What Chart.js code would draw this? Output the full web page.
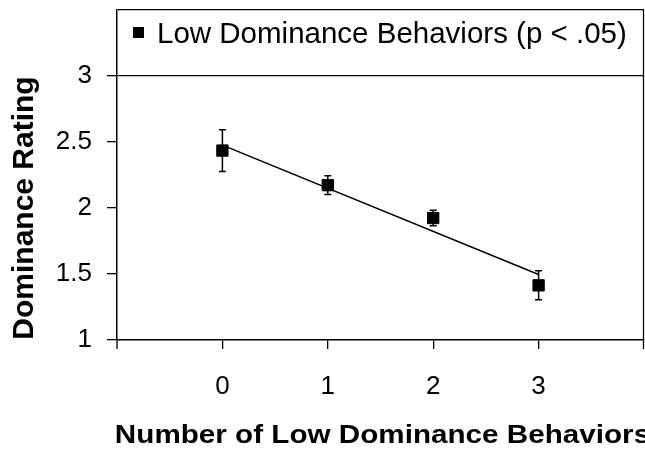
<!DOCTYPE html>
<html>
<head>
    <title>Dominance Rating</title>
    <script src="https://cdn.jsdelivr.net/npm/chart.js"></script>
    <style>
        html, body { margin: 0; padding: 0; background: #fff; overflow: hidden; }
    </style>
</head>
<body>
    <canvas id="chart" width="645" height="449"></canvas>
    <script>
        // values
        const behaviorCounts = [0, 1, 2, 3];
        const meanRatings = [2.435, 2.173, 1.924, 1.414];
        const errorSizes = [0.158, 0.071, 0.059, 0.11];
        const trendX = [0, 3];
        const trendY = [2.476, 1.496];
        const yTickValues = [1, 1.5, 2, 2.5, 3];
        const xTickLabels = ["0", "1", "2", "3"];
        const legendLabel = "Low Dominance Behaviors (p < .05)";
        const xTitle = "Number of Low Dominance Behaviors";
        const yTitle = "Dominance Rating";

        const FONT = "'Liberation Sans', Arial, sans-serif";
        const clear = "rgba(0,0,0,0)";

        const pointData = behaviorCounts.map((x, i) => ({ x: x, y: meanRatings[i] }));
        const trendData = trendX.map((x, i) => ({ x: x, y: trendY[i] }));

        // error bars, outer ticks, legend box and axis titles
        const decor = {
            id: "decor",
            beforeDatasetsDraw(chart) {
                const ctx = chart.ctx, xs = chart.scales.x, ys = chart.scales.y;
                ctx.save();
                ctx.strokeStyle = "#000";
                ctx.lineWidth = 1.5;
                behaviorCounts.forEach((x, i) => {
                    const px = xs.getPixelForValue(x);
                    const top = ys.getPixelForValue(meanRatings[i] + errorSizes[i]);
                    const bot = ys.getPixelForValue(meanRatings[i] - errorSizes[i]);
                    ctx.beginPath();
                    ctx.moveTo(px, top); ctx.lineTo(px, bot);
                    ctx.moveTo(px - 3.5, top); ctx.lineTo(px + 3.5, top);
                    ctx.moveTo(px - 3.5, bot); ctx.lineTo(px + 3.5, bot);
                    ctx.stroke();
                });
                // right edge of the plot and the end tick marks of the x axis
                const area = chart.chartArea;
                const xr = xs.getPixelForValue(xs.max) - 0.5;
                const xl = xs.getPixelForValue(xs.min);
                ctx.lineWidth = 1.3;
                ctx.beginPath();
                ctx.moveTo(xr, area.top); ctx.lineTo(xr, area.bottom + 9);
                ctx.moveTo(xl, area.bottom); ctx.lineTo(xl, area.bottom + 9);
                ctx.stroke();
                ctx.restore();
            },
            afterDraw(chart) {
                const ctx = chart.ctx, area = chart.chartArea, ys = chart.scales.y;
                ctx.save();
                ctx.fillStyle = "#000";
                // legend
                const boxTop = ys.getPixelForValue(3.5);
                ctx.fillRect(area.left + 16, boxTop + 17, 11, 11);
                ctx.font = "29.5px " + FONT;
                ctx.textBaseline = "alphabetic";
                ctx.textAlign = "left";
                ctx.fillText(legendLabel, area.left + 40, boxTop + 33);
                // y title
                const yMid = (ys.getPixelForValue(1) + ys.getPixelForValue(3)) / 2;
                ctx.save();
                ctx.translate(33, yMid);
                ctx.rotate(-Math.PI / 2);
                ctx.textAlign = "center";
                ctx.font = "bold 30px " + FONT;
                ctx.fillText(yTitle, 0, 0);
                ctx.restore();
                // x title
                ctx.save();
                ctx.translate((area.left + area.right) / 2 + 2, 443);
                ctx.scale(1.14, 1);
                ctx.textAlign = "center";
                ctx.font = "bold 26px " + FONT;
                ctx.fillText(xTitle, 0, 0);
                ctx.restore();
                ctx.restore();
            }
        };

        new Chart(document.getElementById("chart"), {
            type: "scatter",
            data: {
                datasets: [
                    {
                        label: legendLabel,
                        data: pointData,
                        pointStyle: "rect",
                        pointRadius: 8,
                        backgroundColor: "#000",
                        borderColor: "#000",
                        borderWidth: 1
                    },
                    {
                        label: "trend",
                        data: trendData,
                        showLine: true,
                        borderColor: "#000",
                        borderWidth: 1.5,
                        pointRadius: 0
                    }
                ]
            },
            options: {
                responsive: false,
                animation: false,
                layout: { autoPadding: false, padding: { top: 10, right: 1, left: 0, bottom: 0 } },
                plugins: { legend: { display: false }, tooltip: { enabled: false } },
                scales: {
                    x: {
                        type: "linear",
                        min: -1, max: 4,
                        afterBuildTicks: s => { s.ticks = behaviorCounts.map(v => ({ value: v })); },
                        afterFit: s => { s.height = 109; },
                        ticks: {
                            color: "#000",
                            padding: 22,
                            font: { family: FONT, size: 26 },
                            callback: (v, i) => xTickLabels[i]
                        },
                        grid: {
                            color: clear,
                            tickColor: "#000",
                            tickLength: 9,
                            lineWidth: 1.3
                        },
                        border: { color: "#000", width: 1.5 }
                    },
                    y: {
                        type: "linear",
                        min: 1, max: 3.5,
                        afterFit: s => {
                            s.width = 117;
                            s.paddingTop = 0; s.paddingBottom = 0;
                        },
                        ticks: {
                            stepSize: 0.5,
                            color: "#000",
                            padding: 15,
                            font: { family: FONT, size: 26 },
                            callback: v => yTickValues.includes(v) ? String(v) : ""
                        },
                        grid: {
                            color: c => (c.tick && (c.tick.value === 3 || c.tick.value === 3.5)) ? "#000" : clear,
                            tickColor: c => (c.tick && c.tick.value === 3.5) ? clear : "#000",
                            tickLength: 10,
                            lineWidth: 1.3
                        },
                        border: { color: "#000", width: 1.5 }
                    }
                }
            },
            plugins: [decor]
        });
    </script>
</body>
</html>
